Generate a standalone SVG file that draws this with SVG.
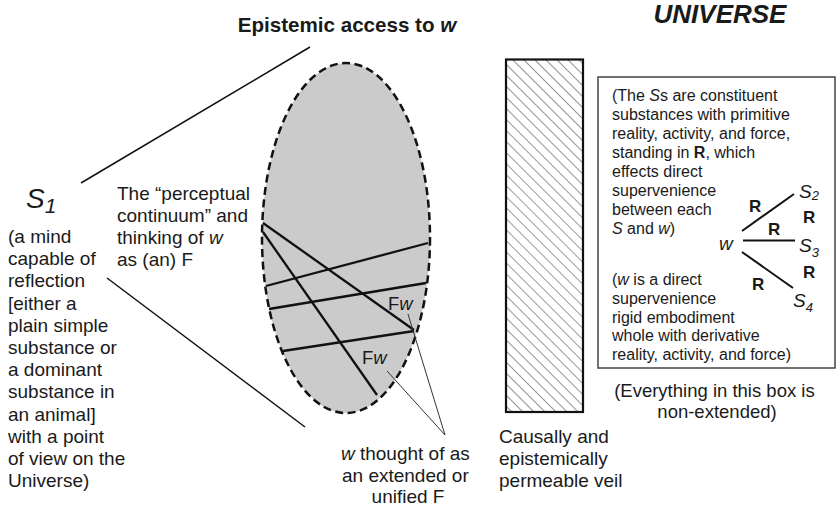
<svg xmlns="http://www.w3.org/2000/svg" width="837" height="509" viewBox="0 0 837 509">
<defs>
<style>
text{font-family:"Liberation Sans",Arial,Helvetica,sans-serif;fill:#1a1a1a}
.t19{font-size:19px}
.t16{font-size:16px}
.b{font-weight:bold}
.i{font-style:italic}
.conn{stroke:#111;stroke-width:1.5;fill:none}
.chord{stroke:#111;stroke-width:2.3;fill:none}
.thin{stroke:#333;stroke-width:1;fill:none}
.rel{stroke:#111;stroke-width:2;fill:none}
</style>
<pattern id="hatch" patternUnits="userSpaceOnUse" width="7.8" height="7.8" patternTransform="rotate(-45)">
<rect width="7.8" height="7.8" fill="#fff"/>
<line x1="0" y1="0" x2="0" y2="7.8" stroke="#444" stroke-width="1.1"/>
</pattern>
</defs>
<rect width="837" height="509" fill="#fff"/>

<g id="title">
<text x="347" y="32" text-anchor="middle" class="b" font-size="20.6">Epistemic access to <tspan class="i">w</tspan></text>
</g>
<g id="universe-label">
<text x="720" y="23" text-anchor="middle" class="b i" font-size="26">UNIVERSE</text>
</g>

<g id="perceptual-continuum">
<ellipse cx="346" cy="238" rx="84" ry="175" fill="#cbcbcb" stroke="#111" stroke-width="2.5" stroke-dasharray="8 4.5"/>
<g class="chords">
<line class="chord" x1="263" y1="223" x2="414" y2="330"/>
<line class="chord" x1="263" y1="232" x2="377" y2="395"/>
<line class="chord" x1="266" y1="286" x2="428" y2="243"/>
<line class="chord" x1="269" y1="309" x2="426" y2="283"/>
<line class="chord" x1="283" y1="351" x2="414" y2="331"/>
</g>
<text x="388" y="310" font-size="18.5">F<tspan class="i">w</tspan></text>
<text x="362" y="364" font-size="18.5">F<tspan class="i">w</tspan></text>
</g>

<g id="s1">
<text x="26" y="208" class="i" font-size="28">S<tspan font-size="21" dy="5">1</tspan></text>
<text class="t19" x="8" y="243">
<tspan x="8" y="243">(a mind</tspan>
<tspan x="8" y="265.2">capable of</tspan>
<tspan x="8" y="287.4">reflection</tspan>
<tspan x="8" y="309.6">[either a</tspan>
<tspan x="8" y="331.8">plain simple</tspan>
<tspan x="8" y="354">substance or</tspan>
<tspan x="8" y="376.2">a dominant</tspan>
<tspan x="8" y="398.4">substance in</tspan>
<tspan x="8" y="420.6">an animal]</tspan>
<tspan x="8" y="442.8">with a point</tspan>
<tspan x="8" y="465">of view on the</tspan>
<tspan x="8" y="487.2">Universe)</tspan>
</text>
</g>

<g id="perceptual-label">
<text class="t19">
<tspan x="117" y="200">The “perceptual</tspan>
<tspan x="117" y="222">continuum” and</tspan>
<tspan x="117" y="244">thinking of <tspan class="i">w</tspan></tspan>
<tspan x="117" y="266">as (an) F</tspan>
</text>
</g>

<g id="w-thought-label">
<text class="t19" text-anchor="middle">
<tspan x="408" y="460"><tspan class="i">w</tspan> thought of as</tspan>
<tspan x="408" y="481.5">an extended or</tspan>
<tspan x="408" y="503">unified F</tspan>
</text>
</g>

<g id="veil">
<rect x="506" y="59.5" width="77" height="352.5" fill="url(#hatch)" stroke="#111" stroke-width="2.2"/>
<text class="t19">
<tspan x="499" y="443">Causally and</tspan>
<tspan x="499" y="465">epistemically</tspan>
<tspan x="499" y="487">permeable veil</tspan>
</text>
</g>

<g id="universe-box">
<rect x="598" y="77" width="237" height="291" fill="#fff" stroke="#444" stroke-width="1.5"/>
<text class="t16">
<tspan x="612" y="101">(The <tspan class="i">S</tspan>s are constituent</tspan>
<tspan x="612" y="120">substances with primitive</tspan>
<tspan x="612" y="139">reality, activity, and force,</tspan>
<tspan x="612" y="158">standing in <tspan class="b">R</tspan>, which</tspan>
<tspan x="612" y="177">effects direct</tspan>
<tspan x="612" y="196">supervenience</tspan>
<tspan x="612" y="215">between each</tspan>
<tspan x="612" y="234"><tspan class="i">S</tspan> and <tspan class="i">w</tspan>)</tspan>
</text>
<text class="t16">
<tspan x="612" y="285">(<tspan class="i">w</tspan> is a direct</tspan>
<tspan x="612" y="304">supervenience</tspan>
<tspan x="612" y="322.5">rigid embodiment</tspan>
<tspan x="612" y="341">whole with derivative</tspan>
<tspan x="612" y="360">reality, activity, and force)</tspan>
</text>
<g id="relation-diagram">
<text x="719" y="250" class="i" font-size="19">w</text>
<text x="799" y="198" class="i" font-size="19">S<tspan font-size="13" dy="2">2</tspan></text>
<text x="799" y="252" class="i" font-size="19">S<tspan font-size="13" dy="5">3</tspan></text>
<text x="793" y="307" class="i" font-size="19">S<tspan font-size="13" dy="5">4</tspan></text>
<text x="749" y="212" class="b" font-size="17">R</text>
<text x="768" y="235" class="b" font-size="17">R</text>
<text x="803" y="223" class="b" font-size="17">R</text>
<text x="803" y="278" class="b" font-size="17">R</text>
<text x="752" y="290" class="b" font-size="17">R</text>
<line class="rel" x1="742" y1="231" x2="794" y2="194"/>
<line class="rel" x1="743" y1="240.5" x2="795" y2="240.5"/>
<line class="rel" x1="742" y1="252" x2="793" y2="288"/>
</g>
</g>
<g id="box-caption">
<text font-size="18.5" text-anchor="middle">
<tspan x="717" y="397">(Everything in this box is</tspan>
<tspan x="717" y="418">non-extended)</tspan>
</text>
</g>

<g id="connectors">
<line class="conn" x1="81" y1="183" x2="310" y2="47"/>
<line class="conn" x1="107" y1="278" x2="305" y2="427"/>
<line class="thin" x1="408" y1="314" x2="445" y2="435"/>
<line class="thin" x1="387" y1="371" x2="445" y2="435"/>
</g>
</svg>
